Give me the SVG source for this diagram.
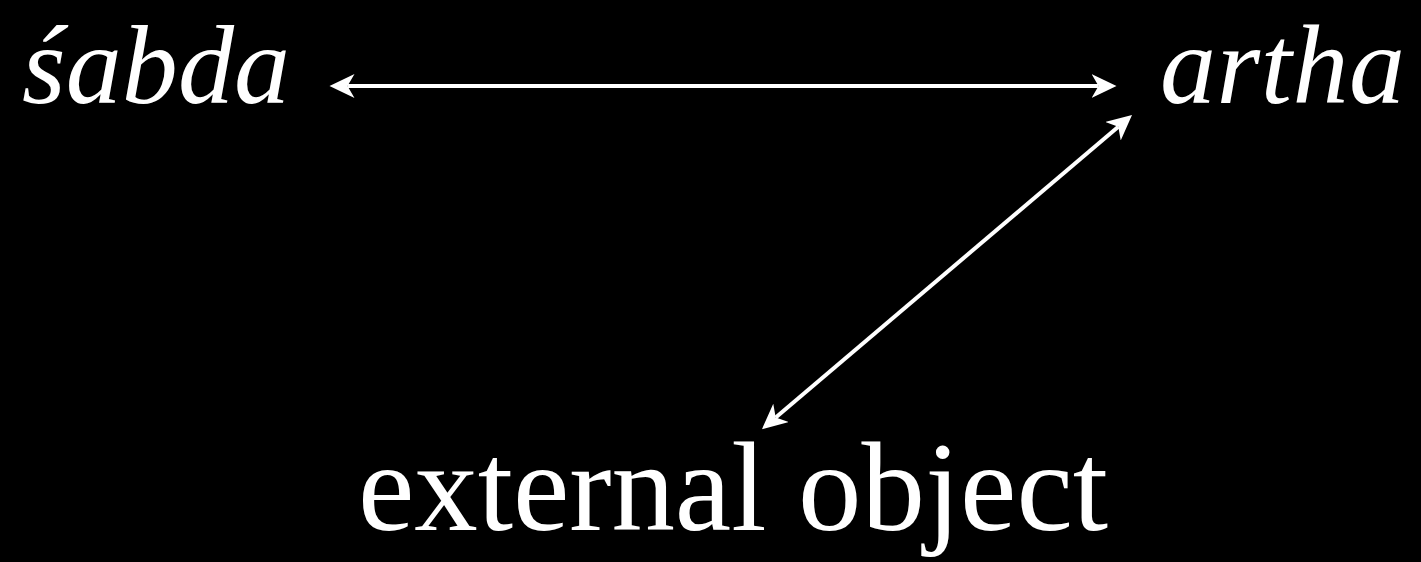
<svg xmlns="http://www.w3.org/2000/svg" width="1421" height="562" viewBox="0 0 1421 562">
<style>
.lbl{fill:#fff;font-family:"Liberation Serif","DejaVu Serif",serif}
.it{font-style:italic;font-size:112px}
.up{font-size:127px}
.conn{stroke:#fff;stroke-width:4;fill:none;marker-start:url(#ah);marker-end:url(#ah)}
</style>
<defs>
<marker id="ah" markerUnits="userSpaceOnUse" markerWidth="30" markerHeight="26" refX="7" refY="12" orient="auto-start-reverse">
<path d="M25,12 L0,0 L7,12 L0,24 Z" fill="#fff"/>
</marker>
</defs>
<rect width="1421" height="562" fill="#000"/>
<g id="connectors">
<line class="conn" x1="347.5" y1="86" x2="1098.5" y2="86"/>
<line class="conn" x1="1118.3" y1="126.7" x2="775.7" y2="417.5"/>
</g>
<g id="sabda"><text class="lbl it" x="22" y="103" textLength="268">śabda</text></g>
<g id="artha"><text class="lbl it" x="1160" y="103" textLength="245">artha</text></g>
<g id="external"><text class="lbl up" x="358" y="530" textLength="750">external object</text></g>
</svg>
